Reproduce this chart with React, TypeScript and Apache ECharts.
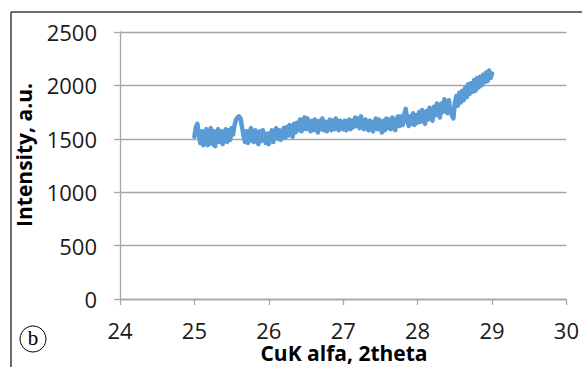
import React, { useEffect, useRef } from "react";
import * as echarts from "echarts";

// Diffraction pattern: 2theta from 25 to 29 in steps of 0.02
const startAngle = 25;
const angleStep = 0.02;
const intensity: number[] = [
  1520, 1610, 1640, 1530, 1460, 1570, 1440, 1550, 1590, 1440,
  1520, 1600, 1450, 1570, 1430, 1550, 1590, 1470, 1570, 1450,
  1540, 1590, 1470, 1580, 1490, 1600, 1540, 1630, 1680, 1700,
  1710, 1690, 1610, 1530, 1470, 1570, 1460, 1550, 1600, 1480,
  1470, 1580, 1500, 1450, 1570, 1480, 1580, 1510, 1460, 1550,
  1450, 1520, 1580, 1470, 1550, 1600, 1500, 1580, 1490, 1570,
  1600, 1510, 1610, 1530, 1630, 1550, 1520, 1640, 1560, 1650,
  1580, 1680, 1570, 1660, 1700, 1590, 1690, 1600, 1570, 1670,
  1580, 1680, 1600, 1560, 1670, 1590, 1690, 1580, 1660, 1570,
  1640, 1680, 1580, 1670, 1590, 1690, 1610, 1580, 1670, 1600,
  1590, 1670, 1580, 1660, 1680, 1590, 1670, 1610, 1700, 1620,
  1690, 1600, 1710, 1630, 1590, 1680, 1600, 1580, 1670, 1590,
  1570, 1660, 1690, 1590, 1680, 1600, 1560, 1670, 1580, 1690,
  1600, 1680, 1590, 1700, 1610, 1580, 1690, 1710, 1620, 1710,
  1630, 1730, 1780, 1670, 1620, 1710, 1640, 1740, 1630, 1720,
  1650, 1750, 1660, 1770, 1680, 1640, 1760, 1680, 1790, 1700,
  1670, 1800, 1720, 1830, 1740, 1700, 1830, 1750, 1870, 1770,
  1740, 1860, 1770, 1720, 1690, 1830, 1900, 1810, 1930, 1840,
  1950, 1860, 1980, 1890, 2010, 1920, 2020, 1940, 2050, 1950,
  2070, 1980, 2080, 2000, 2100, 2030, 2120, 2040, 2140, 2070,
  2110,
];

const xTicks = { min: 24, max: 30, interval: 1 };
const yTicks = { min: 0, max: 2500, interval: 500 };
const xTitle = "CuK alfa, 2theta";
const yTitle = "Intensity, a.u.";
const panelLabel = "b";

export default function App() {
  const ref = useRef<HTMLDivElement>(null);
  useEffect(() => {
    if (!ref.current) return;
    const chart = echarts.init(ref.current, undefined, { renderer: "svg" });
    const data = intensity.map((v, i) => [
      +(startAngle + i * angleStep).toFixed(2),
      v,
    ]);
    const labelFont = "'Open Sans', 'DejaVu Sans', sans-serif";
    chart.setOption({
      animation: false,
      backgroundColor: "#ffffff",
      grid: { left: 120, right: 14, top: 32, bottom: 68, containLabel: false },
      xAxis: {
        type: "value",
        min: xTicks.min,
        max: xTicks.max,
        interval: xTicks.interval,
        axisLine: { show: true, lineStyle: { color: "#a6a6a6", width: 1.3 } },
        axisTick: { show: true, length: 6, lineStyle: { color: "#a6a6a6", width: 1.3 } },
        splitLine: { show: false },
        axisLabel: {
          color: "#1a1a1a",
          fontSize: 22,
          fontFamily: labelFont,
          margin: 20,
          formatter: (v: number) => String(v),
        },
      },
      yAxis: {
        type: "value",
        min: yTicks.min,
        max: yTicks.max,
        interval: yTicks.interval,
        axisLine: { show: true, lineStyle: { color: "#a6a6a6", width: 1.3 } },
        axisTick: { show: true, length: 6, lineStyle: { color: "#a6a6a6", width: 1.3 } },
        splitLine: { show: true, lineStyle: { color: "#a6a6a6", width: 1.3 } },
        axisLabel: {
          color: "#1a1a1a",
          fontSize: 22,
          fontFamily: labelFont,
          margin: 23,
          formatter: (v: number) => String(v),
        },
      },
      series: [
        {
          type: "line",
          data,
          showSymbol: false,
          symbol: "none",
          smooth: false,
          lineStyle: { color: "#5b9bd5", width: 4.5, join: "round", cap: "round" },
        },
      ],
      graphic: [
        {
          type: "line",
          shape: { x1: 11, y1: 12, x2: 582, y2: 12 },
          style: { stroke: "#3c3c3c", lineWidth: 1.5 },
        },
        {
          type: "line",
          shape: { x1: 11, y1: 12, x2: 11, y2: 367 },
          style: { stroke: "#3c3c3c", lineWidth: 1.5 },
        },
        {
          type: "text",
          x: 24,
          y: 155,
          rotation: Math.PI / 2,
          style: {
            text: yTitle,
            fontSize: 21,
            fontWeight: "bold",
            fontFamily: labelFont,
            fill: "#000000",
            align: "center",
            verticalAlign: "middle",
          },
        },
        {
          type: "text",
          x: 344,
          y: 353,
          style: {
            text: xTitle,
            fontSize: 21,
            fontWeight: "bold",
            fontFamily: labelFont,
            fill: "#000000",
            align: "center",
            verticalAlign: "middle",
          },
        },
        {
          type: "circle",
          shape: { cx: 33, cy: 339, r: 13 },
          style: { fill: "none", stroke: "#000000", lineWidth: 1 },
        },
        {
          type: "text",
          x: 33,
          y: 338,
          style: {
            text: panelLabel,
            fontSize: 21,
            fontFamily: "'Liberation Serif', 'DejaVu Serif', serif",
            fill: "#000000",
            align: "center",
            verticalAlign: "middle",
          },
        },
      ],
    });
    return () => chart.dispose();
  }, []);
  return <div ref={ref} style={{ width: 582, height: 367, position: "fixed", left: 0, top: 0 }} />;
}
